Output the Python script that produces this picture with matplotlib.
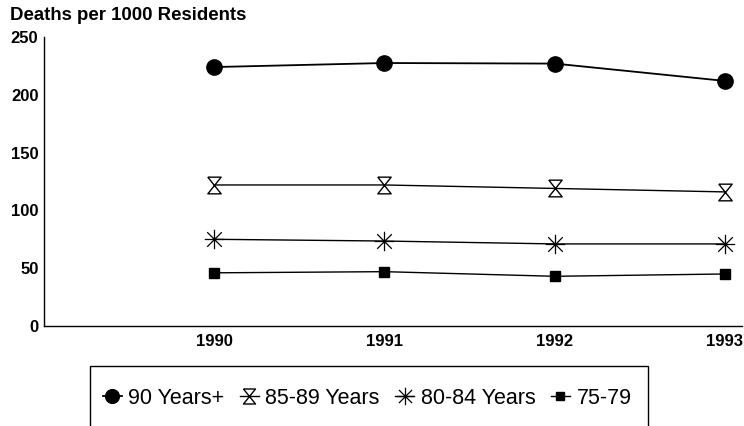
import matplotlib.pyplot as plt
from matplotlib.path import Path
from matplotlib.patches import Rectangle

plt.rcParams["font.family"] = ["Liberation Sans", "DejaVu Sans"]

years = ["1990", "1991", "1992", "1993"]
age_90_plus = [224, 227.5, 227, 212]
age_85_89 = [122, 122, 119, 116]
age_80_84 = [75, 73.5, 71, 71]
age_75_79 = [46, 47, 43, 45]

# hourglass and asterisk markers
hourglass = Path([(-0.8, 1), (0.8, 1), (-0.8, -1), (0.8, -1), (-0.8, 1)])
asterisk = Path(
    [(-1, 0), (1, 0), (0, -1), (0, 1), (-0.75, -0.75), (0.75, 0.75), (-0.75, 0.75), (0.75, -0.75)],
    [Path.MOVETO, Path.LINETO] * 4,
)

fig = plt.figure(figsize=(7.44, 4.26), dpi=100)
ax = fig.add_axes([44 / 744, 1 - 326 / 426, 698 / 744, 289 / 426])

x = list(range(len(years)))
ax.plot(x, age_90_plus, color="black", lw=1.3, marker="o", ms=11, mfc="black", mec="black", label="90 Years+")
ax.plot(x, age_85_89, color="black", lw=1.0, marker=hourglass, ms=12, mfc="white", mec="black", mew=1.0, label="85-89 Years")
ax.plot(x, age_80_84, color="black", lw=1.0, marker=asterisk, ms=14, mfc="none", mec="black", mew=0.9, label="80-84 Years")
ax.plot(x, age_75_79, color="black", lw=1.0, marker="s", ms=7, mfc="black", mec="black", label="75-79")

ax.set_xlim(-1.0, 3.1)
ax.set_ylim(0, 250)
ax.set_xticks(x)
ax.set_xticklabels(years)
ax.set_yticks([0, 50, 100, 150, 200, 250])
ax.tick_params(length=0, labelsize=12, pad=6)
ax.tick_params(axis="y", pad=4)
for lab in ax.get_xticklabels() + ax.get_yticklabels():
    lab.set_fontweight("bold")
ax.spines["top"].set_visible(False)
ax.spines["right"].set_visible(False)
ax.spines["left"].set_linewidth(1.0)
ax.spines["bottom"].set_linewidth(1.0)

fig.text(10 / 744, 1 - 15 / 426, "Deaths per 1000 Residents", fontsize=13.4, fontweight="bold", va="center", ha="left")

fig.patches.append(Rectangle((90 / 744, -0.05), 558 / 744, 0.05 + 1 - 366 / 426,
                             transform=fig.transFigure, fill=False, ec="black", lw=1.0))
fig.legend(loc="center", bbox_to_anchor=(367 / 744, 1 - 398 / 426), ncol=4, frameon=False,
           fontsize=15.5, handlelength=0.9, handletextpad=0.3, columnspacing=0.7, markerscale=0.9)

fig.savefig("out.png", dpi=100)
